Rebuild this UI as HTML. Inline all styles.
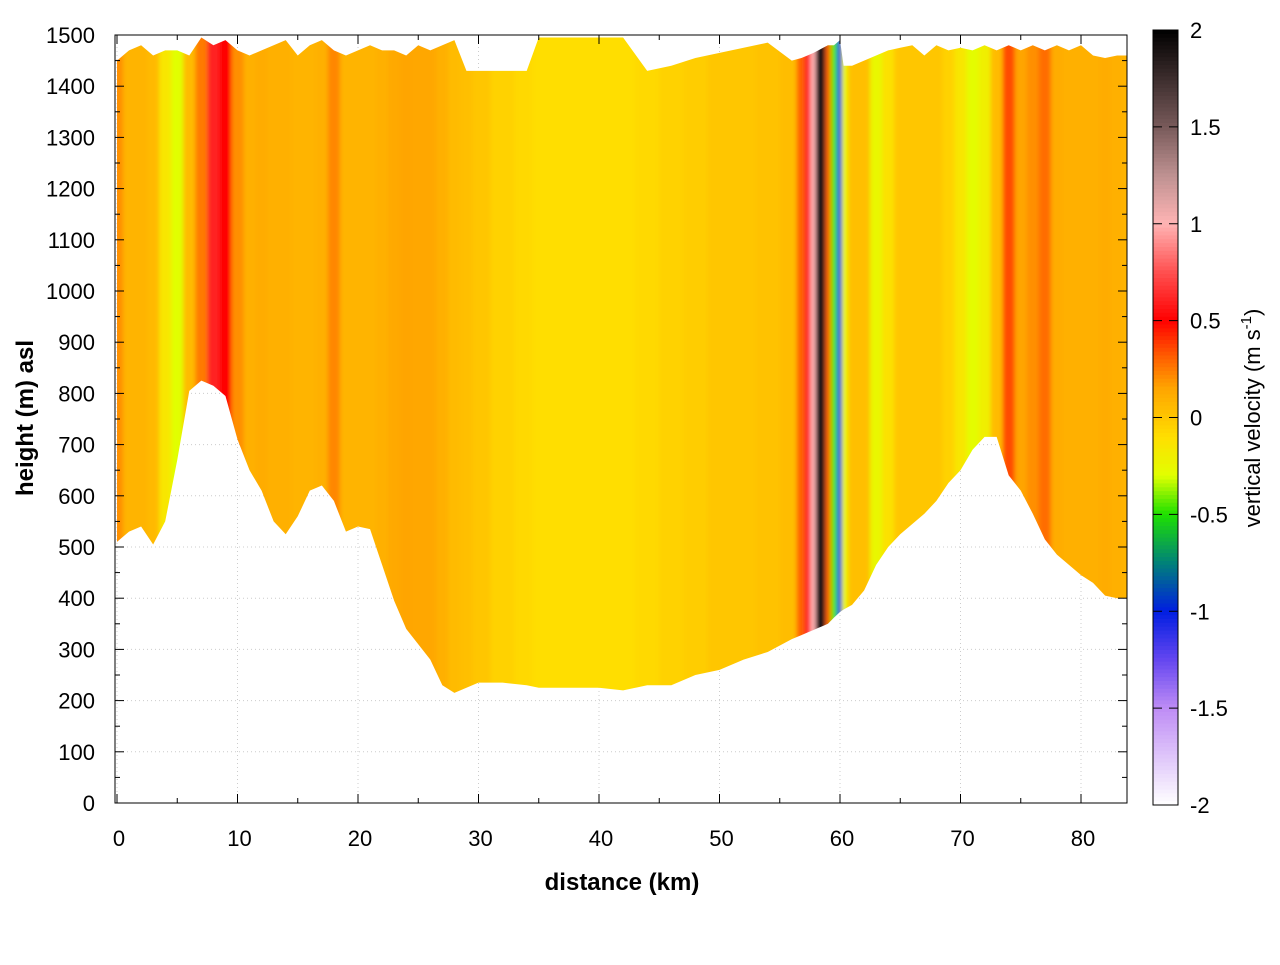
<!DOCTYPE html>
<html><head><meta charset="utf-8"><style>
body{margin:0;background:#fff}
text{font-family:"Liberation Sans",sans-serif;fill:#000}
</style></head><body>
<svg id="c" width="1280" height="960" xmlns="http://www.w3.org/2000/svg"></svg>
<script>
const dist=[0,1,2,3,4,5,6,7,8,9,10,11,12,13,14,15,16,17,18,19,20,21,22,23,24,25,26,27,28,29,30,32,34,35,36,40,42,44,46,48,50,52,54,56,56.8,57.3,57.8,58.2,58.6,59,59.5,60,60.3,61,62,63,64,65,66,67,68,69,70,71,72,73,74,75,76,77,78,79,80,81,82,83,83.8];
const ground=[510,530,540,505,550,670,805,825,815,795,710,650,610,550,525,560,610,620,590,530,540,535,465,395,340,310,280,230,215,225,235,235,230,225,225,225,220,230,230,250,260,280,295,320,328,333,338,342,346,350,362,373,378,387,415,465,500,525,545,565,590,625,650,690,715,715,640,610,565,515,485,465,445,430,405,400,400];
const topH=[1450,1470,1480,1460,1470,1470,1460,1495,1480,1490,1470,1460,1470,1480,1490,1460,1480,1490,1470,1460,1470,1480,1470,1470,1460,1480,1470,1480,1490,1430,1430,1430,1430,1495,1495,1495,1495,1430,1440,1455,1465,1475,1485,1450,1455,1460,1465,1470,1475,1480,1480,1490,1440,1440,1450,1460,1470,1475,1480,1460,1480,1470,1475,1470,1480,1470,1480,1470,1480,1470,1480,1470,1480,1460,1455,1460,1460];
const wVal=[0.2,0.08,0.08,0.06,-0.15,-0.3,0.05,0.25,0.6,0.5,0.2,0.1,0.12,0.1,0.1,0.08,0.08,0.1,0.22,0.08,0.08,0.08,0.1,0.13,0.15,0.14,0.14,0.1,0.05,0.03,0.0,-0.05,-0.08,-0.1,-0.1,-0.1,-0.1,-0.08,-0.05,-0.03,0,0,0.02,0.04,0.3,0.6,1.0,2.0,1.85,0.3,-0.45,-1.05,-0.25,0.03,0.03,-0.25,-0.12,0,0,0,0,-0.05,-0.15,-0.28,-0.2,0.05,0.35,0.15,0.2,0.28,0.12,0.1,0.1,0.1,0.12,0.1,0.08];
const cbTicks=[2,1.5,1,0.5,0,-0.5,-1,-1.5,-2];
const yTicks=[0,100,200,300,400,500,600,700,800,900,1000,1100,1200,1300,1400,1500];
const xTicks=[0,10,20,30,40,50,60,70,80];

const NS="http://www.w3.org/2000/svg",svg=document.getElementById('c');
const X0=117,KX=12.05,Y0=803,KY=0.512;
const sx=d=>X0+d*KX, sy=h=>Y0-h*KY;
const stops=[[-2,[255,255,255]],[-1.5,[190,140,245]],[-1.25,[100,70,240]],[-1,[0,30,225]],[-0.75,[0,130,120]],[-0.5,[30,225,0]],[-0.3,[225,255,0]],[-0.1,[255,222,0]],[0,[255,198,0]],[0.15,[255,165,0]],[0.3,[255,100,0]],[0.5,[255,0,0]],[0.75,[255,80,80]],[1,[255,180,180]],[1.25,[190,145,145]],[1.5,[120,90,90]],[2,[0,0,0]]];
function col(v){v=Math.max(-2,Math.min(2,v));for(let i=1;i<stops.length;i++){if(v<=stops[i][0]){const a=stops[i-1],b=stops[i],t=(v-a[0])/(b[0]-a[0]);return 'rgb('+a[1].map((c,k)=>Math.round(c+(b[1][k]-c)*t)).join(',')+')';}}return 'rgb(0,0,0)';}
function el(t,a,p){const e=document.createElementNS(NS,t);for(const k in a)e.setAttribute(k,a[k]);(p||svg).appendChild(e);return e;}

for(const v of yTicks){const g=el('line',{x1:115,x2:1127,y1:sy(v),y2:sy(v),stroke:'#ccc','stroke-dasharray':'1,3'});

}
for(const v of xTicks){const g=el('line',{x1:sx(v),x2:sx(v),y1:35,y2:803,stroke:'#ccc','stroke-dasharray':'1,3'});

}

let pts=[];
for(let i=0;i<dist.length;i++)pts.push(sx(dist[i])+','+sy(topH[i]));
for(let i=dist.length-1;i>=0;i--)pts.push(sx(dist[i])+','+sy(ground[i]));
const defs=el('defs',{});const cp=el('clipPath',{id:'cp'},defs);el('polygon',{points:pts.join(' ')},cp);
const flt=el('filter',{id:'bl',x:'-0.1',y:'0',width:'1.2',height:'1'},defs);el('feGaussianBlur',{stdDeviation:'2,0'},flt);
const gField=el('g',{'clip-path':'url(#cp)'});


const inner=el('g',{filter:'url(#bl)'},gField);
for(let i=0;i<dist.length;i++){
  const l=i==0?dist[0]-0.5:(dist[i-1]+dist[i])/2, r=i==dist.length-1?dist[i]+0.5:(dist[i]+dist[i+1])/2;
  const c=el('rect',{x:sx(l),y:20,width:sx(r)-sx(l)+0.5,height:790,fill:col(wVal[i])},inner);
  
  
}

const fr=el('rect',{x:115,y:35,width:1012,height:768,fill:'none',stroke:'#000','stroke-width':1});


for(let v=0;v<=1500;v+=50){const L=v%100==0?9:5;
el('line',{x1:115,x2:115+L,y1:sy(v),y2:sy(v),stroke:'#000'});el('line',{x1:1127,x2:1127-L,y1:sy(v),y2:sy(v),stroke:'#000'});}
for(let v=0;v<=83;v+=5){const L=v%10==0?9:5;
el('line',{x1:sx(v),x2:sx(v),y1:803,y2:803-L,stroke:'#000'});el('line',{x1:sx(v),x2:sx(v),y1:35,y2:35+L,stroke:'#000'});}
for(const v of yTicks){const t=el('text',{x:95,y:sy(v)+8,'text-anchor':'end','font-size':22});t.textContent=v;

}
for(const v of xTicks){const t=el('text',{x:sx(v)+2,y:846,'text-anchor':'middle','font-size':22});t.textContent=v;

}
const xl=el('text',{x:622,y:890,'text-anchor':'middle','font-size':24,'font-weight':'bold'});xl.textContent='distance (km)';


const yl=el('text',{transform:'translate(33,418) rotate(-90)','text-anchor':'middle','font-size':24,'font-weight':'bold'});yl.textContent='height (m) asl';



const cbG=el('g',{});


const CT=30,CB=805;
for(let i=0;i<200;i++){const v=2-4*(i+0.5)/200;el('rect',{x:1153,y:CT+(CB-CT)*i/200,width:25,height:(CB-CT)/200+0.6,fill:col(v)},cbG);}
el('rect',{x:1153,y:CT,width:25,height:CB-CT,fill:'none',stroke:'#000'},cbG);
for(const v of cbTicks){const y=CT+(2-v)/4*(CB-CT);
el('line',{x1:1153,x2:1162,y1:y,y2:y,stroke:'#000'},cbG);el('line',{x1:1178,x2:1169,y1:y,y2:y,stroke:'#000'},cbG);
const t=el('text',{x:1190,y:y+8,'font-size':22},cbG);t.textContent=v;

}
const cl=el('text',{transform:'translate(1260,418) rotate(-90)','text-anchor':'middle','font-size':22});
cl.innerHTML='vertical velocity (m s<tspan dy="-9" font-size="15">-1</tspan><tspan dy="9">)</tspan>';


</script>
</body></html>
